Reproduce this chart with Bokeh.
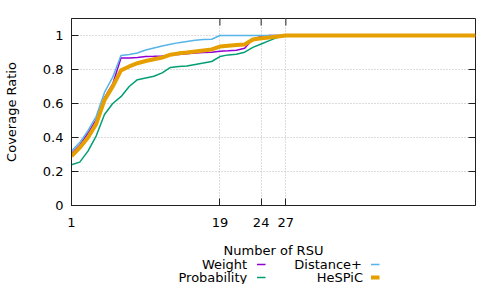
from bokeh.plotting import figure
from bokeh.layouts import column
from bokeh.models import Range1d, FixedTicker
from bokeh.core.properties import value
from bokeh.embed import file_html
from bokeh.resources import INLINE

# ---- data ----
rsu = list(range(1, 51))
weight = [0.305, 0.355, 0.425, 0.505, 0.635, 0.715, 0.868, 0.868, 0.870, 0.877,
          0.878, 0.880, 0.886, 0.888, 0.893, 0.897, 0.900, 0.902, 0.908, 0.910,
          0.913, 0.925, 0.980, 0.994, 1.0, 1.0, 1.0, 1.0, 1.0, 1.0,
          1.0, 1.0, 1.0, 1.0, 1.0, 1.0, 1.0, 1.0, 1.0, 1.0,
          1.0, 1.0, 1.0, 1.0, 1.0, 1.0, 1.0, 1.0, 1.0, 1.0]
probability = [0.240, 0.255, 0.320, 0.410, 0.535, 0.600, 0.640, 0.700, 0.740, 0.750,
               0.760, 0.780, 0.812, 0.818, 0.820, 0.830, 0.838, 0.847, 0.876, 0.886,
               0.890, 0.902, 0.930, 0.950, 0.970, 0.990, 1.0, 1.0, 1.0, 1.0,
               1.0, 1.0, 1.0, 1.0, 1.0, 1.0, 1.0, 1.0, 1.0, 1.0,
               1.0, 1.0, 1.0, 1.0, 1.0, 1.0, 1.0, 1.0, 1.0, 1.0]
distance = [0.320, 0.370, 0.440, 0.525, 0.665, 0.755, 0.882, 0.888, 0.897, 0.915,
            0.927, 0.938, 0.948, 0.958, 0.965, 0.972, 0.976, 0.978, 1.0, 1.0,
            1.0, 1.0, 1.0, 1.0, 1.0, 1.0, 1.0, 1.0, 1.0, 1.0,
            1.0, 1.0, 1.0, 1.0, 1.0, 1.0, 1.0, 1.0, 1.0, 1.0,
            1.0, 1.0, 1.0, 1.0, 1.0, 1.0, 1.0, 1.0, 1.0, 1.0]
hespic = [0.290, 0.340, 0.400, 0.480, 0.620, 0.700, 0.795, 0.818, 0.837, 0.850,
          0.860, 0.870, 0.887, 0.895, 0.900, 0.906, 0.912, 0.918, 0.935, 0.940,
          0.944, 0.947, 0.976, 0.984, 0.988, 0.994, 1.0, 1.0, 1.0, 1.0,
          1.0, 1.0, 1.0, 1.0, 1.0, 1.0, 1.0, 1.0, 1.0, 1.0,
          1.0, 1.0, 1.0, 1.0, 1.0, 1.0, 1.0, 1.0, 1.0, 1.0]

x_ticks = [1, 19, 24, 27]
y_ticks = [0, 0.2, 0.4, 0.6, 0.8, 1.0]
y_tick_labels = ["0", "0.2", "0.4", "0.6", "0.8", "1"]
x_title = "Number of RSU"
y_title = "Coverage Ratio"

series_names = ["Weight", "Probability", "Distance+", "HeSPiC"]
series_colors = ["#9400d3", "#009e73", "#56b4e9", "#e69f00"]
series_widths = [1.5, 1.5, 1.5, 4]

FONT = "DejaVu Sans"
FS = "13px"
X0, X1, Y0, Y1 = 1, 50, 0, 1.1

# geometry (px)
W = 484
H1 = 233          # main chart height
H2 = 51           # strip with x title + legend
FL, FR, FT, FB = 71, 475, 18, 205
XS = (FR - FL) / (X1 - X0)
YS = (FB - FT) / (Y1 - Y0)

p = figure(width=W, height=H1, output_backend="svg", toolbar_location=None,
           x_range=Range1d(X0, X1), y_range=Range1d(Y0, Y1),
           min_border_left=FL, min_border_right=W - FR, min_border_top=FT,
           min_border_bottom=H1 - FB)
p.background_fill_color = "white"
p.border_fill_color = "white"
p.outline_line_color = "#202020"
p.outline_line_width = 1

for ax in (p.xaxis[0], p.yaxis[0]):
    ax.major_tick_in = 7
    ax.major_tick_out = 0
    ax.minor_tick_line_color = None
    ax.axis_line_color = "#202020"
    ax.major_tick_line_color = "#202020"
    ax.major_label_text_font = FONT
    ax.major_label_text_font_size = FS
    ax.major_label_text_color = "black"
    ax.axis_label_text_font = FONT
    ax.axis_label_text_font_size = FS
    ax.axis_label_text_font_style = "normal"
    ax.axis_label_text_color = "black"

p.xaxis[0].ticker = FixedTicker(ticks=x_ticks)
p.xaxis[0].major_label_standoff = 12

p.yaxis[0].ticker = FixedTicker(ticks=y_ticks)
p.yaxis[0].major_label_overrides = {t: l for t, l in zip(y_ticks, y_tick_labels)}
p.yaxis[0].major_label_standoff = 8
p.yaxis[0].axis_label = y_title
p.yaxis[0].axis_label_standoff = 21

# grids
p.xgrid[0].ticker = FixedTicker(ticks=[19, 24, 27])
p.ygrid[0].ticker = FixedTicker(ticks=[0.2, 0.4, 0.6, 0.8, 1.0])
for g in (p.xgrid[0], p.ygrid[0]):
    g.grid_line_color = "#b8b8b8"
    g.grid_line_dash = "1 2"
    g.grid_line_width = 1

# mirrored inward ticks on top and right edges
TICK = 7
top_t = [t for t in x_ticks if X0 < t < X1]
p.segment(x0=top_t, y0=[Y1] * len(top_t), x1=top_t, y1=[Y1 - TICK / YS] * len(top_t),
          line_color="#202020", line_width=1)
right_t = [t for t in y_ticks if Y0 < t < Y1]
p.segment(x0=[X1] * len(right_t), y0=right_t, x1=[X1 - TICK / XS] * len(right_t), y1=right_t,
          line_color="#202020", line_width=1)

# lines
for name, ys, c, w in zip(series_names, [weight, probability, distance, hespic],
                          series_colors, series_widths):
    p.line(rsu, ys, line_color=c, line_width=w)

# ---- strip below: x title and legend (label then short sample, two columns) ----
# its frame spans the same pixels as the chart frame; x range = page pixels
leg = figure(width=W, height=H2, output_backend="svg", toolbar_location=None,
             x_axis_location=None, y_axis_location=None,
             x_range=Range1d(FL, FR), y_range=Range1d(H2, 0),
             min_border_left=FL, min_border_right=W - FR,
             min_border_top=0, min_border_bottom=0)
leg.grid.visible = False
leg.outline_line_color = None
leg.background_fill_color = "white"
leg.border_fill_color = "white"

leg.text(x=[(FL + FR) / 2], y=[17.0], text=[x_title], text_align="center",
         text_baseline="middle", text_font=value(FONT), text_font_size=value(FS),
         text_color="black")

rows = [31.0, 44.0, 31.0, 44.0]
text_right = [246.7, 246.7, 361.5, 362.5]
samp_l = [256.5, 256.5, 370.5, 370.5]
samp_r = [265.0, 265.0, 379.0, 379.0]
leg.text(x=text_right, y=rows, text=series_names, text_align="right",
         text_baseline="middle", text_font=value(FONT), text_font_size=value(FS),
         text_color="black")
for c, w, yy, sl, sr in zip(series_colors, series_widths, rows, samp_l, samp_r):
    leg.segment(x0=[sl], y0=[yy], x1=[sr], y1=[yy], line_color=c, line_width=w)

layout = column(p, leg, spacing=0)
open("out.html", "w").write(file_html(layout, INLINE))
